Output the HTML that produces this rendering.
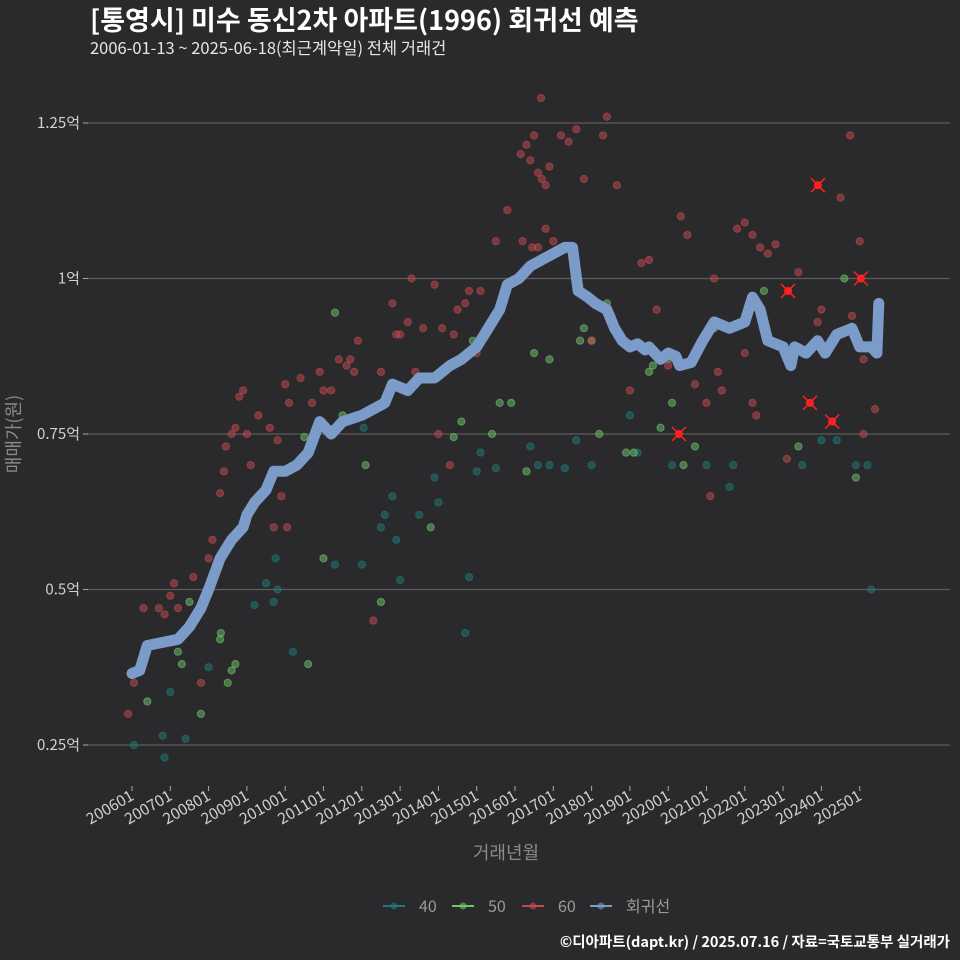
<!DOCTYPE html>
<html><head><meta charset="utf-8">
<style>
html,body{margin:0;padding:0;background:#2a2a2c;}
svg{display:block;font-family:"Noto Sans CJK KR","Liberation Sans",sans-serif;}
</style></head>
<body>
<svg id="chart" width="960" height="960" viewBox="0 0 960 960">
<rect x="0" y="0" width="960" height="960" fill="#2a2a2c"/>
<text x="90" y="30" font-size="27" font-weight="bold" fill="#ffffff">[통영시] 미수 동신2차 아파트(1996) 회귀선 예측</text>
<text x="90" y="54" font-size="16.5" fill="#e6e6e6">2006-01-13 ~ 2025-06-18(최근계약일) 전체 거래건</text>
<g id="grid"></g>
<g id="yaxis"></g>
<g id="xaxis"></g>
<g id="points"></g>
<g id="line"></g>
<g id="marks"></g>
<text x="20" y="434" font-size="18" fill="#8a8a8a" text-anchor="middle" transform="rotate(-90 20 434)">매매가(원)</text>
<text x="506" y="859" font-size="18" fill="#8a8a8a" text-anchor="middle">거래년월</text>
<g id="legend"></g>
<text x="950" y="947" font-size="14.5" font-weight="bold" fill="#ffffff" text-anchor="end">©디아파트(dapt.kr) / 2025.07.16 / 자료=국토교통부 실거래가</text>
</svg>
<script>
const yTicks=[0.25,0.5,0.75,1,1.25];
const yTickLabels=["0.25억","0.5억","0.75억","1억","1.25억"];
const xTickYears=[2006,2007,2008,2009,2010,2011,2012,2013,2014,2015,2016,2017,2018,2019,2020,2021,2022,2023,2024,2025];
const xTickLabels=["200601","200701","200801","200901","201001","201101","201201","201301","201401","201501","201601","201701","201801","201901","202001","202101","202201","202301","202401","202501"];
const lineYears=[2006.0,2006.2,2006.4,2006.8,2007.2,2007.5,2007.8,2008.0,2008.3,2008.6,2008.9,2009.0,2009.2,2009.5,2009.7,2010.0,2010.3,2010.6,2010.9,2011.2,2011.5,2012.0,2012.3,2012.6,2012.8,2013.2,2013.5,2013.9,2014.3,2014.6,2015.0,2015.3,2015.6,2015.8,2016.1,2016.4,2016.7,2017.0,2017.3,2017.5,2017.65,2017.9,2018.1,2018.4,2018.6,2018.8,2019.0,2019.2,2019.4,2019.5,2019.8,2020.0,2020.2,2020.3,2020.6,2020.9,2021.2,2021.6,2022.0,2022.2,2022.4,2022.6,2023.0,2023.2,2023.3,2023.6,2023.9,2024.1,2024.4,2024.8,2025.0,2025.3,2025.45,2025.5];
const lineValues=[0.365,0.37,0.41,0.415,0.42,0.44,0.47,0.50,0.55,0.58,0.60,0.62,0.64,0.66,0.69,0.69,0.70,0.72,0.77,0.75,0.77,0.78,0.79,0.80,0.83,0.82,0.84,0.84,0.86,0.87,0.89,0.92,0.95,0.99,1.00,1.02,1.03,1.04,1.05,1.05,0.98,0.97,0.96,0.95,0.92,0.90,0.89,0.895,0.885,0.89,0.87,0.88,0.875,0.86,0.865,0.90,0.93,0.92,0.93,0.97,0.95,0.90,0.89,0.86,0.89,0.88,0.90,0.88,0.91,0.92,0.89,0.89,0.88,0.96];
const redYears=[2005.9,2006.05,2006.3,2006.7,2006.85,2007.0,2007.1,2007.2,2007.6,2007.8,2008.0,2008.1,2008.3,2008.4,2008.45,2008.6,2008.7,2008.8,2008.9,2009.0,2009.1,2009.3,2009.6,2009.7,2009.8,2009.9,2010.0,2010.05,2010.1,2010.4,2010.7,2010.9,2011.0,2011.2,2011.6,2011.7,2011.8,2011.9,2012.3,2012.5,2012.8,2013.0,2013.2,2013.3,2013.6,2013.9,2014.0,2014.3,2014.4,2014.7,2015.0,2015.1,2015.3,2015.5,2015.6,2015.8,2016.15,2016.3,2016.5,2016.4,2016.6,2016.7,2016.8,2016.9,2016.68,2017.2,2017.4,2017.6,2017.8,2018.3,2018.4,2018.66,2016.2,2016.45,2016.6,2016.8,2017.0,2019.3,2019.5,2020.33,2020.5,2021.2,2021.8,2022.0,2022.2,2022.4,2022.6,2022.8,2019.7,2020.0,2021.0,2021.1,2021.3,2021.4,2022.2,2022.3,2022.0,2023.1,2023.4,2024.0,2024.5,2024.8,2024.75,2025.0,2025.1,2025.1,2025.4,2014.1,2014.5,2014.8,2013.4,2012.9,2011.4,2020.7,2019.0,2018.0,2023.9];
const redValues=[0.30,0.35,0.47,0.47,0.46,0.49,0.51,0.47,0.52,0.35,0.55,0.58,0.655,0.69,0.73,0.75,0.76,0.81,0.82,0.75,0.70,0.78,0.76,0.60,0.74,0.65,0.83,0.60,0.80,0.84,0.80,0.85,0.82,0.82,0.86,0.87,0.85,0.90,0.45,0.85,0.96,0.91,0.93,1.00,0.92,0.99,0.75,0.70,0.91,0.96,0.88,0.98,0.92,1.06,0.95,1.11,1.20,1.215,1.23,1.19,1.17,1.16,1.15,1.18,1.29,1.23,1.22,1.24,1.16,1.23,1.26,1.15,1.06,1.05,1.05,1.08,1.06,1.025,1.03,1.10,1.07,1.00,1.08,1.09,1.07,1.05,1.04,1.055,0.95,0.86,0.80,0.65,0.85,0.82,0.80,0.78,0.88,0.71,1.01,0.95,1.13,0.94,1.23,1.06,0.75,0.87,0.79,0.92,0.95,0.98,0.85,0.91,0.87,0.83,0.82,0.90,0.93];
const greenYears=[2006.4,2007.2,2007.3,2007.5,2007.7,2007.8,2008.3,2008.32,2008.5,2008.6,2008.7,2010.5,2010.6,2011.0,2011.3,2011.5,2012.1,2012.5,2013.8,2014.4,2014.6,2014.9,2015.4,2015.6,2015.9,2016.3,2016.5,2016.9,2017.7,2017.8,2018.0,2018.2,2018.4,2018.9,2019.1,2019.5,2019.6,2019.8,2020.0,2020.1,2020.4,2020.7,2021.2,2022.5,2023.4,2024.6,2024.9];
const greenValues=[0.32,0.40,0.38,0.48,0.46,0.30,0.42,0.43,0.35,0.37,0.38,0.745,0.38,0.55,0.945,0.78,0.70,0.48,0.60,0.745,0.77,0.90,0.75,0.80,0.80,0.69,0.88,0.87,0.90,0.92,0.90,0.75,0.96,0.72,0.72,0.85,0.86,0.76,0.87,0.80,0.70,0.73,0.92,0.98,0.73,1.00,0.68];
const tealYears=[2006.05,2006.8,2006.85,2007.0,2007.4,2008.0,2009.2,2009.5,2009.7,2009.8,2009.75,2010.2,2011.3,2012.0,2012.05,2012.5,2012.6,2012.8,2012.9,2013.0,2013.5,2013.9,2014.0,2014.7,2014.8,2015.0,2015.1,2015.5,2016.4,2016.6,2016.9,2017.3,2017.6,2018.0,2019.0,2019.2,2020.1,2021.0,2021.6,2021.7,2024.0,2024.4,2023.5,2025.2,2025.3,2024.9];
const tealValues=[0.25,0.265,0.23,0.335,0.26,0.375,0.475,0.51,0.48,0.50,0.55,0.40,0.54,0.54,0.76,0.60,0.62,0.65,0.58,0.515,0.62,0.68,0.64,0.43,0.52,0.69,0.72,0.695,0.73,0.70,0.70,0.695,0.74,0.70,0.78,0.72,0.70,0.70,0.665,0.70,0.74,0.74,0.70,0.70,0.50,0.70];
const markYears=[2020.28,2023.13,2023.7,2023.91,2024.28,2025.03];
const markValues=[0.75,0.98,0.80,1.15,0.77,1.00];

const NS="http://www.w3.org/2000/svg";
function xs(y){return 132+(y-2006)*38.3;}
function ys(v){return 745-(v-0.25)*622;}
function mk(tag,attrs,parent){const e=document.createElementNS(NS,tag);for(const k in attrs)e.setAttribute(k,attrs[k]);parent.appendChild(e);return e;}
const grid=document.getElementById('grid'),yax=document.getElementById('yaxis'),xax=document.getElementById('xaxis');
yTicks.forEach((v,i)=>{
  const g=mk('line',{x1:88,x2:950,y1:ys(v),y2:ys(v),stroke:'#5c5c5c','stroke-width':1.2},grid);
  
  
  const t=mk('line',{x1:83,x2:88,y1:ys(v),y2:ys(v),stroke:'#aaa'},yax);
  
  
  const l=mk('text',{x:80,y:ys(v)+5,'font-size':15,fill:'#d0d0d0','text-anchor':'end'},yax);
  l.textContent=yTickLabels[i];
  
  
});
xTickYears.forEach((yr,i)=>{
  const x=xs(yr);
  const t=mk('line',{x1:x,x2:x,y1:786,y2:791,stroke:'#aaa'},xax);
  
  
  const l=mk('text',{x:x+3,y:799,'font-size':15.5,fill:'#d0d0d0','text-anchor':'end',transform:`rotate(-30 ${x+3} 799)`},xax);
  l.textContent=xTickLabels[i];
  
  
});
const pts=document.getElementById('points');
function drawPts(yrs,vals,color,name){
  yrs.forEach((yr,i)=>{
    const c=mk('circle',{cx:xs(yr),cy:ys(vals[i]),r:3.6,fill:color,'fill-opacity':0.5,stroke:color,'stroke-opacity':0.6},pts);
    
    
  });
}
drawPts(tealYears,tealValues,'#1f7a7a','point-40');
drawPts(greenYears,greenValues,'#6fc46a','point-50');
drawPts(redYears,redValues,'#c44a50','point-60');
const lg=document.getElementById('line');
const d=lineYears.map((yr,i)=>(i?'L':'M')+xs(yr).toFixed(1)+','+ys(lineValues[i]).toFixed(1)).join(' ');
const p=mk('path',{d:d,fill:'none',stroke:'#7b9bc8','stroke-width':11,'stroke-linejoin':'round','stroke-linecap':'round'},lg);


const mg=document.getElementById('marks');
markYears.forEach((yr,i)=>{
  const x=xs(yr),y=ys(markValues[i]);
  const g=mk('g',{},mg);
  
  
  mk('circle',{cx:x,cy:y,r:4,fill:'#ff2020'},g);
  mk('path',{d:`M${x-7},${y-7}L${x+7},${y+7}M${x-7},${y+7}L${x+7},${y-7}`,stroke:'#ff2020','stroke-width':1.5},g);
});
const leg=document.getElementById('legend');
[['40','#1f7a7a',383],['50','#6fc46a',452],['60','#c44a50',522],['회귀선','#7b9bc8',590]].forEach(([lab,col,x])=>{
  const g=mk('g',{},leg);
  
  
  mk('line',{x1:x,x2:x+22,y1:906,y2:906,stroke:col,'stroke-width':2},g);
  mk('circle',{cx:x+11,cy:906,r:3.5,fill:col,'fill-opacity':0.6},g);
  const t=mk('text',{x:x+36,y:912,'font-size':16,fill:'#9a9a9a'},g);
  t.textContent=lab;
});
</script>
</body></html>
